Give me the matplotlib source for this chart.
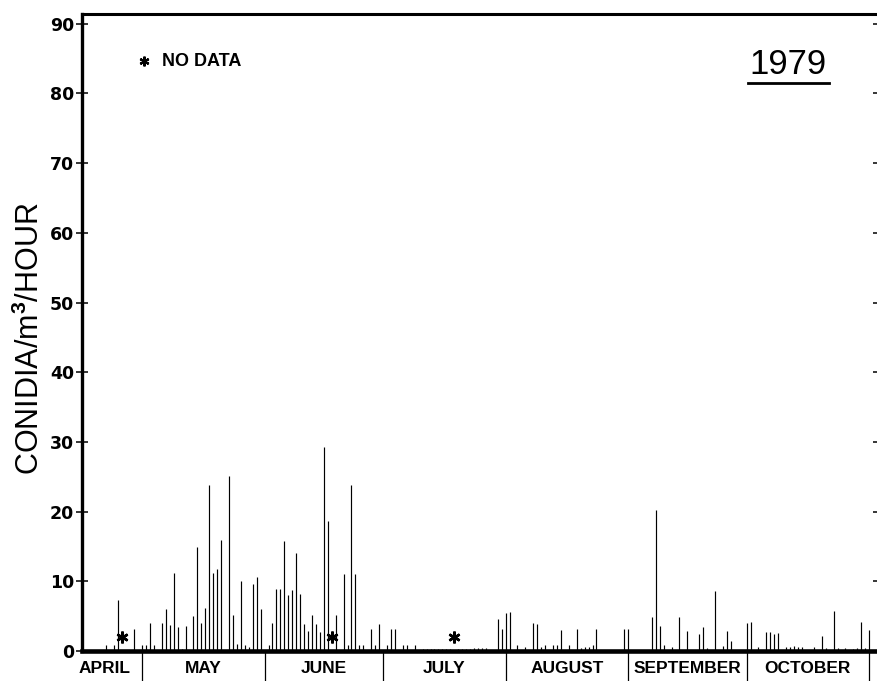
import pandas as pd
import matplotlib.pyplot as plt
from matplotlib.lines import Line2D
from matplotlib.transforms import blended_transform_factory

plt.rcParams["font.family"] = ["Liberation Sans", "DejaVu Sans"]
plt.rcParams["mathtext.fontset"] = "custom"
plt.rcParams["mathtext.rm"] = "Liberation Sans"
plt.rcParams["mathtext.bf"] = "Liberation Sans:bold"

# daily conidia counts, 1979 (month-day)
dates = [
    "04-22", "04-24", "04-25", "04-29",
    "05-01", "05-02", "05-03", "05-04", "05-06", "05-07", "05-08", "05-09",
    "05-10", "05-11", "05-12", "05-14", "05-15", "05-16", "05-17", "05-18",
    "05-19", "05-20", "05-21", "05-23", "05-24", "05-25", "05-26", "05-27",
    "05-28", "05-29", "05-30", "05-31",
    "06-02", "06-03", "06-04", "06-05", "06-06", "06-07", "06-08", "06-09",
    "06-10", "06-11", "06-12", "06-13", "06-14", "06-15", "06-16", "06-17",
    "06-19", "06-21", "06-22", "06-23", "06-24", "06-25", "06-26", "06-28",
    "06-29", "06-30",
    "07-02", "07-03", "07-04", "07-06", "07-07", "07-09",
    "07-11", "07-12", "07-13", "07-14", "07-15", "07-16", "07-17", "07-18",
    "07-20", "07-21", "07-22", "07-23", "07-24", "07-25", "07-26", "07-27",
    "07-30", "07-31",
    "08-01", "08-02", "08-04", "08-06", "08-08", "08-09", "08-10", "08-11",
    "08-13", "08-14", "08-15", "08-17", "08-19", "08-20", "08-21", "08-22",
    "08-23", "08-24", "08-31",
    "09-01", "09-07", "09-08", "09-09", "09-10", "09-12", "09-14", "09-16",
    "09-19", "09-20", "09-21", "09-23", "09-25", "09-26", "09-27",
    "10-01", "10-02", "10-04", "10-06", "10-07", "10-08", "10-09", "10-11",
    "10-12", "10-13", "10-14", "10-15", "10-18", "10-20", "10-21", "10-23",
    "10-24", "10-26", "10-28", "10-29", "10-30", "10-31",
    "11-01",
]
conidia = [
    0.8, 0.8, 7.3, 3.1,
    0.8, 0.8, 4.0, 0.8, 4.0, 6.0, 3.7, 11.2,
    3.5, 0.3, 3.6, 5.0, 14.9, 4.0, 6.1, 23.8,
    11.2, 11.8, 15.9, 25.1, 5.1, 1.0, 10.0, 0.8,
    0.6, 9.6, 10.6, 6.0,
    0.8, 4.0, 8.9, 8.9, 15.8, 8.0, 8.8, 14.1,
    8.2, 3.9, 2.8, 5.2, 3.9, 2.7, 29.3, 18.7,
    5.2, 11.0, 0.8, 23.8, 11.0, 0.9, 0.9, 3.1,
    0.8, 3.9,
    0.8, 3.1, 3.1, 0.8, 0.8, 0.8,
    0.3, 0.3, 0.3, 0.3, 0.3, 0.3, 0.3, 0.3,
    0.3, 0.3, 0.3, 0.3, 0.4, 0.4, 0.4, 0.4,
    4.6, 3.1,
    5.4, 5.6, 0.8, 0.6, 4.0, 3.9, 0.6, 0.8,
    0.8, 0.8, 3.0, 0.8, 3.1, 0.5, 0.6, 0.6,
    0.8, 3.2, 3.1,
    3.1, 4.9, 20.3, 3.6, 0.8, 0.6, 4.9, 2.8,
    2.5, 3.5, 0.5, 8.6, 0.7, 2.8, 1.5,
    4.0, 4.1, 0.6, 2.7, 2.7, 2.5, 2.6, 0.6,
    0.6, 0.7, 0.6, 0.6, 0.6, 2.2, 0.4, 5.8,
    0.4, 0.4, 0.3, 0.4, 4.2, 0.5,
    3.0,
]
no_data = ["04-26", "06-18", "07-19"]

months = ["APRIL", "MAY", "JUNE", "JULY", "AUGUST", "SEPTEMBER", "OCTOBER"]
month_edges = ["04-12", "05-01", "06-01", "07-01", "08-01", "09-01", "10-01", "11-01"]
yticks = list(range(0, 91, 10))


def day(md):
    return (pd.Timestamp(f"1979-{md}") - pd.Timestamp("1979-04-01")).days


x = [day(d) for d in dates]
edges = [day(d) for d in month_edges]
centers = [(a + b) / 2 for a, b in zip(edges[:-1], edges[1:])]

W, H = 877, 681
fig = plt.figure(figsize=(W / 100, H / 100), dpi=100)
ax = fig.add_axes([82 / W, 30 / H, (879 - 82) / W, (651 - 14) / H])

ax.vlines(x, 0, conidia, color="black", lw=0.85, zorder=2)
ax.plot([day(d) for d in no_data], [2.0] * len(no_data), ls="none",
        marker=(6, 2, 0), ms=8.5, mew=1.8, color="black", zorder=3)

ax.set_xlim(14.8, 216.5)
ax.set_ylim(0, 91.4)

for side, lw in [("left", 2.4), ("top", 2.2), ("bottom", 3.3)]:
    ax.spines[side].set_linewidth(lw)
ax.spines["right"].set_visible(False)

ax.set_yticks(yticks)
ax.tick_params(axis="y", direction="inout", length=8.6, width=1.1,
               right=True, pad=1.5, labelsize=12.5)
for lab in ax.get_yticklabels():
    lab.set_fontfamily("DejaVu Sans")
    lab.set_fontweight("bold")

ax.set_xticks(edges[1:])
ax.set_xticklabels([])
ax.tick_params(axis="x", direction="out", length=21.6, width=0.9)

trans = blended_transform_factory(ax.transData, ax.transAxes)
for c, name in zip(centers, months):
    ax.text(c, -0.027, name, transform=trans, ha="center", va="center",
            fontsize=12.5, fontweight="bold")

# legend for missing days
ax.plot([0.0778], [0.926], transform=ax.transAxes, marker=(6, 2, 0),
        ms=7, mew=1.6, color="black", clip_on=False)
ax.text(0.1004, 0.926, "NO DATA", transform=ax.transAxes, ha="left",
        va="center", fontsize=13, fontweight="bold")

fig.text(30 / W, 1 - 339 / H, r"CONIDIA/m$^\mathbf{3}$/HOUR", rotation=90,
         ha="center", va="center", fontsize=22)

fig.text(788 / W, 1 - 65 / H, "1979", ha="center", va="center", fontsize=25)
fig.add_artist(Line2D([748 / W, 829 / W], [1 - 83 / H, 1 - 83 / H],
                      transform=fig.transFigure, color="black", lw=2))

fig.savefig("out.png", dpi=100)
